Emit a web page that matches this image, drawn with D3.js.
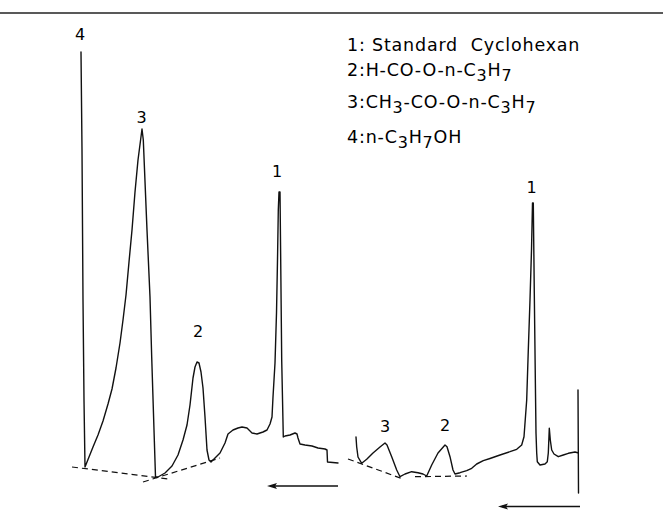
<!DOCTYPE html>
<html>
<head>
<meta charset="utf-8">
<script src="https://cdn.jsdelivr.net/npm/d3@7"></script>
<style>
  html, body { margin: 0; padding: 0; background: #fff; }
  svg { display: block; }
  text { font-family: "DejaVu Sans", "Liberation Sans", sans-serif; fill: #000; }
</style>
</head>
<body>
<svg id="chart" width="663" height="513"></svg>
<script>
// ---- Data: chart-paper position (cm) vs detector deflection (cm) ----
// Left chromatogram (starts with solvent peak 4 pen line)
const leftTraceT = [8.1,8.2,8.3,8.4,8.5,8.9,9.3,9.8,10.3,10.8,11.2,11.6,12.0,12.3,12.6,12.9,13.2,13.5,13.8,14.2,
  14.33,14.7,15.0,15.17,15.4,15.55,
  15.8,16.5,17.2,17.8,18.3,18.7,19.0,19.3,19.5,19.7,19.9,20.1,20.3,20.5,20.7,20.9,21.1,
  21.3,21.7,22.0,22.5,22.8,23.3,23.8,24.2,24.7,25.2,25.7,26.3,26.7,27.0,27.2,27.3,27.5,27.65,27.75,27.83,27.9,
  28.0,28.07,28.17,28.33,28.5,29.0,29.5,29.7,29.8,30.0,30.5,31.2,31.8,32.5,32.7,32.75,33.8];
const leftTraceS = [43.0,33.2,18.2,8.2,1.5,2.5,3.5,4.7,6.1,7.8,9.3,11.4,13.9,16.2,18.7,22.0,25.2,29.0,32.2,35.3,
  34.2,25.2,18.5,12.5,5.2,0.5,
  0.5,0.9,1.6,2.7,4.2,5.7,7.7,10.4,11.5,12.0,11.9,11.0,9.4,6.5,3.2,2.2,2.0,
  2.2,2.6,2.9,3.9,4.8,5.2,5.4,5.5,5.4,4.9,4.8,5.0,5.2,5.8,6.5,8.5,11.9,16.9,22.2,27.2,29.0,
  29.0,22.2,12.2,4.5,4.6,4.7,4.9,4.8,4.4,3.8,3.7,3.6,3.4,3.3,3.2,2.0,1.9];

// Right chromatogram
const rightTraceT = [35.6,35.67,35.8,36.17,36.67,37.3,38.0,38.5,38.7,39.17,39.67,40.0,40.5,41.17,41.8,42.3,42.67,
  43.17,43.8,44.5,44.7,45.0,45.3,45.5,46.0,46.67,47.17,47.67,48.33,49.0,50.0,51.0,51.67,52.17,52.4,
  52.67,52.83,53.0,53.15,53.25,53.33,53.43,53.53,53.6,53.67,53.73,54.0,54.5,54.73,54.83,54.93,55.03,
  55.17,55.4,55.83,56.33,56.83,57.5,57.77];
const rightTraceS = [4.5,3.5,2.5,1.87,2.27,2.9,3.5,3.9,3.7,2.53,1.2,0.53,0.8,1.03,0.93,0.8,0.6,
  1.7,2.9,3.7,3.53,2.53,1.2,0.8,0.93,1.13,1.37,1.8,2.13,2.35,2.7,3.03,3.27,3.7,4.53,
  8.2,13.2,18.2,23.2,27.9,27.9,18.9,10.5,4.9,2.9,2.03,1.7,1.8,2.03,2.9,5.37,4.2,
  3.2,2.8,2.53,2.7,2.87,3.0,2.93];

// End-of-run marker (right)
const markerT = [57.8, 57.85];
const markerS = [9.2, -1.1];

// Dashed baselines
const baselineStartT = [7.2, 14.3, 34.8, 41.5];
const baselineStartS = [1.5, 0.0, 2.3, 0.53];
const baselineEndT   = [16.9, 22.0, 40.3, 46.7];
const baselineEndS   = [0.3, 2.4, 0.3, 0.6];

// Chart-direction arrows (head at the left end)
const arrowHeadT = [26.7, 49.8];
const arrowTailT = [33.8, 58.0];
const arrowS     = [-0.4, -2.45];

// Peak labels
const peakLabelText = ["4", "3", "2", "1", "3", "2", "1"];
const peakLabelT    = [8.0, 14.17, 19.8, 27.7, 38.5, 44.5, 53.17];
const peakLabelS    = [44.2, 35.9, 14.5, 30.5, 5.0, 5.1, 28.9];

// Legend entries: segments, "_" prefix marks a subscript
const legendItems = [
  ["1: Standard  Cyclohexan"],
  ["2:H-CO-O-n-C", "_3", "H", "_7"],
  ["3:CH", "_3", "-CO-O-n-C", "_3", "H", "_7"],
  ["4:n-C", "_3", "H", "_7", "OH"]
];
const legendBaselineS = [43.1, 40.6, 37.4, 33.9];
const legendStartT = 34.7;

// ---- Drawing ----
const W = 663, H = 513;
const svg = d3.select("#chart");

const x = d3.scaleLinear().domain([0, 66.3]).range([0, W]);
const y = d3.scaleLinear().domain([0, 48.2]).range([482, 0]);

// top rule of the page
svg.append("line")
  .attr("x1", 0).attr("x2", W)
  .attr("y1", 13).attr("y2", 13)
  .attr("stroke", "#222").attr("stroke-width", 1.6);

const line = d3.line().x(d => x(d[0])).y(d => y(d[1])).curve(d3.curveLinear);

const traces = [
  d3.zip(leftTraceT, leftTraceS),
  d3.zip(rightTraceT, rightTraceS),
  d3.zip(markerT, markerS)
];
svg.append("g").selectAll("path").data(traces).join("path")
  .attr("d", line)
  .attr("fill", "none")
  .attr("stroke", "#111")
  .attr("stroke-width", 1.4)
  .attr("stroke-linejoin", "round")
  .attr("stroke-linecap", "round");

// dashed baselines
svg.append("g").selectAll("line").data(d3.range(baselineStartT.length)).join("line")
  .attr("x1", i => x(baselineStartT[i])).attr("y1", i => y(baselineStartS[i]))
  .attr("x2", i => x(baselineEndT[i])).attr("y2", i => y(baselineEndS[i]))
  .attr("stroke", "#111").attr("stroke-width", 1.2)
  .attr("stroke-dasharray", "6,4");

// arrows
const ag = svg.append("g").selectAll("g").data(d3.range(arrowHeadT.length)).join("g");
ag.append("line")
  .attr("x1", i => x(arrowHeadT[i]) + 4).attr("x2", i => x(arrowTailT[i]))
  .attr("y1", i => y(arrowS[i])).attr("y2", i => y(arrowS[i]))
  .attr("stroke", "#111").attr("stroke-width", 1.4);
ag.append("path")
  .attr("d", i => {
    const hx = x(arrowHeadT[i]), hy = y(arrowS[i]);
    return `M${hx},${hy} L${hx + 10},${hy - 3} L${hx + 8},${hy} L${hx + 10},${hy + 3} Z`;
  })
  .attr("fill", "#111");

// peak labels
svg.append("g").selectAll("text").data(d3.range(peakLabelText.length)).join("text")
  .attr("x", i => x(peakLabelT[i]))
  .attr("y", i => y(peakLabelS[i]))
  .attr("text-anchor", "middle")
  .style("font-size", "16px")
  .text(i => peakLabelText[i]);

// legend
legendItems.forEach((segs, i) => {
  const t = svg.append("text")
    .attr("x", x(legendStartT))
    .attr("y", y(legendBaselineS[i]))
    .style("font-size", "17.5px")
    .style("letter-spacing", "0.8px")
    .attr("xml:space", "preserve");
  let lowered = false;
  segs.forEach(s => {
    const isSub = s.startsWith("_");
    const ts = t.append("tspan").text(isSub ? s.slice(1) : s);
    if (isSub && !lowered) { ts.attr("dy", 5); lowered = true; }
    else if (!isSub && lowered) { ts.attr("dy", -5); lowered = false; }
    if (isSub) ts.style("font-size", "16px");
  });
});
</script>
</body>
</html>
